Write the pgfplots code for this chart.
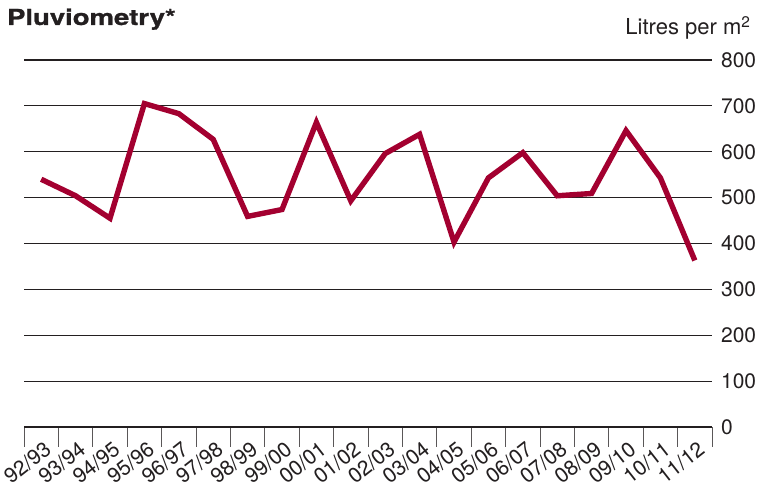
\documentclass[border=0pt]{standalone}
\usepackage{pgfplots}
\pgfplotsset{compat=1.18}
\usepackage{fontspec}
\setmainfont{TeX Gyre Heros}
\newfontfamily\titlefont[FakeStretch=1.25, FakeBold=1.2]{TeX Gyre Heros}
\definecolor{wine}{RGB}{163,0,48}
\definecolor{ink}{RGB}{35,31,32}

\begin{document}
\begin{tikzpicture}
\begin{axis}[
    scale only axis,
    width=344pt, height=183.5pt,
    xmin=-0.5, xmax=19.5,
    ymin=0, ymax=800,
    axis x line*=bottom,
    axis y line*=right,
    y axis line style={draw=none},
    x axis line style={ink, line width=0.6pt},
    ytick={0,100,...,800},
    ymajorgrids,
    grid style={ink, line width=0.6pt},
    xtick={0,...,19},
    xticklabels={92/93,93/94,94/95,95/96,96/97,97/98,98/99,99/00,00/01,01/02,
                 02/03,03/04,04/05,05/06,06/07,07/08,08/09,09/10,10/11,11/12},
    major tick length=0pt,
    minor xtick={-0.5,0.5,...,19.5},
    minor x tick style={ink!75, line width=0.5pt},
    minor tick length=10pt,
    tick align=outside,
    tick label style={text=ink},
    xticklabel style={font=\fontsize{10.5}{12}\selectfont, inner sep=0pt,
        xshift=1pt, yshift=-6.5pt, rotate=38, anchor=north east},
    yticklabel style={font=\fontsize{10.5}{12}\selectfont, anchor=west, xshift=1pt},
    /pgf/number format/assume math mode=true,
    clip=false,
]
\addplot[wine, line width=2.7pt, line join=miter, mark=none] coordinates {
    (0,540) (1,504) (2,455) (3,705) (4,683) (5,627) (6,459) (7,474)
    (8,664) (9,493) (10,596) (11,638) (12,403) (13,543) (14,598)
    (15,504) (16,509) (17,646) (18,543) (19,363)
};
\node[anchor=base west, font=\fontsize{11}{13}\titlefont\bfseries, text=ink]
    at ([xshift=-12pt, yshift=17.5pt]rel axis cs:0,1) {Pluviometry*};
\node[anchor=base east, font=\fontsize{11}{13}\selectfont, text=ink]
    at ([xshift=23pt, yshift=12.5pt]rel axis cs:1,1) {Litres per m\textsuperscript{2}};
\end{axis}
\pgfresetboundingbox
\path[use as bounding box] ([xshift=-12pt, yshift=-28pt]current axis.south west)
    rectangle ([xshift=22.5pt, yshift=30pt]current axis.north east);
\end{tikzpicture}
\end{document}
